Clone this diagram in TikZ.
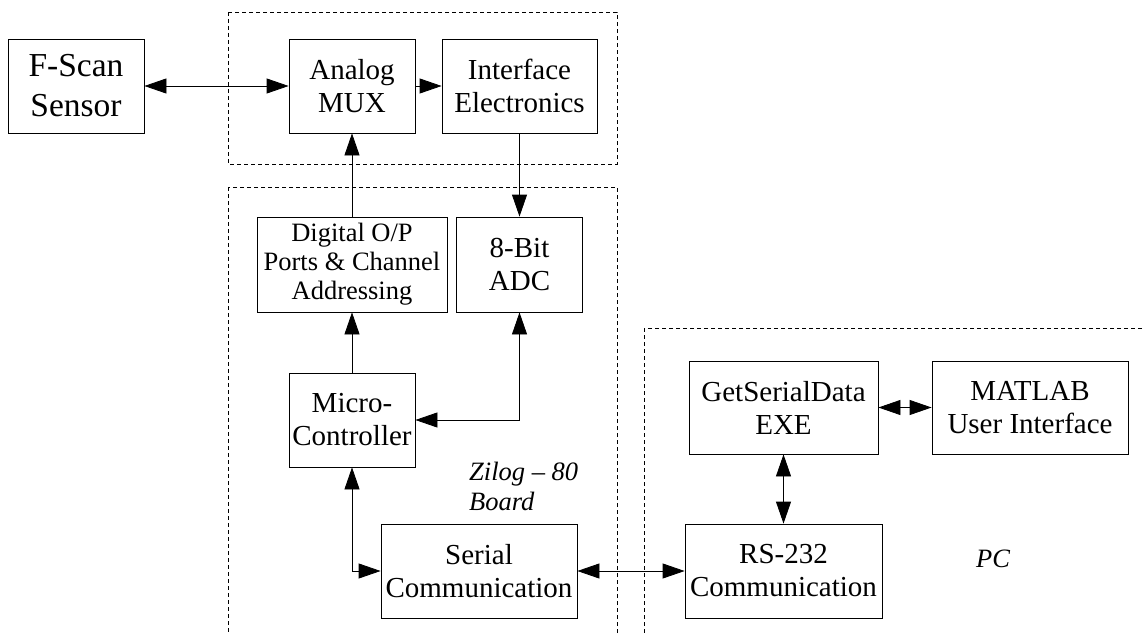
\documentclass[tikz,border=0pt]{standalone}
\usepackage{fontspec}
\setmainfont{Liberation Serif}
\usetikzlibrary{arrows.meta}
\tikzset{
  blk/.style={draw, line width=0.8pt, inner sep=0pt, align=center, font=\fontsize{29}{33}\selectfont},
  grp/.style={draw, line width=0.6pt, dash pattern=on 4pt off 3pt},
  con/.style={line width=0.8pt, arrows={-Triangle[length=22pt,width=15pt]}},
  bcon/.style={line width=0.8pt, arrows={Triangle[length=22pt,width=15pt]-Triangle[length=22pt,width=15pt]}},
  lbl/.style={inner sep=0pt, align=left, font=\fontsize{26.5}{30}\selectfont\itshape}
}
\begin{document}
\begin{tikzpicture}[x=1pt,y=-1pt]
\clip (0,0) rectangle (1145,634);
\fill[white] (0,0) rectangle (1145,634);
% groups
\draw[grp] (228,12) rectangle (617,164);
\draw[grp] (228,187) rectangle (617,660);
\draw[grp] (644,328) rectangle (1170,660);
% blocks
\node[blk, minimum width=136pt, minimum height=94pt, font=\fontsize{33.5}{40}\selectfont] (fscan) at (76,86) {F-Scan\\Sensor};
\node[blk, minimum width=126pt, minimum height=94pt] (mux) at (352,86) {Analog\\MUX};
\node[blk, minimum width=155pt, minimum height=94pt] (iface) at (519.5,86) {Interface\\Electronics};
\node[blk, minimum width=190pt, minimum height=95pt, font=\fontsize{26.5}{29}\selectfont] (dig) at (352,264.5) {Digital O/P\\Ports \& Channel\\Addressing};
\node[blk, minimum width=126pt, minimum height=95pt] (adc) at (519.5,264.5) {8-Bit\\ADC};
\node[blk, minimum width=126pt, minimum height=94pt] (mcu) at (352,420) {Micro-\\Controller};
\node[blk, minimum width=196pt, minimum height=94pt] (ser) at (479,571) {Serial\\Communication};
\node[blk, minimum width=189pt, minimum height=93pt] (gsd) at (783.5,407.5) {GetSerialData\\EXE};
\node[blk, minimum width=196pt, minimum height=93pt] (mat) at (1030,407.5) {MATLAB\\User Interface};
\node[blk, minimum width=197pt, minimum height=94pt] (rs) at (783.5,571) {RS-232\\Communication};
% labels
\node[lbl, anchor=north west] (zlb) at (469,462) {Zilog -- 80\\Board};
\node[lbl, anchor=center] (pcl) at (993,559) {PC};
% connectors
\draw[bcon] (fscan.east) -- (mux.west);
\draw[con] (mux.east) -- (iface.west);
\draw[con] (iface.south) -- (adc.north);
\draw[con] (dig.north) -- (mux.south);
\draw[con] (mcu.north) -- (dig.south);
\draw[bcon] (mcu.east) -| (adc.south);
\draw[bcon] (mcu.south) |- (ser.west);
\draw[bcon] (ser.east) -- (rs.west);
\draw[bcon] (gsd.south) -- (rs.north);
\draw[bcon] (gsd.east) -- (mat.west);
\end{tikzpicture}
\end{document}
